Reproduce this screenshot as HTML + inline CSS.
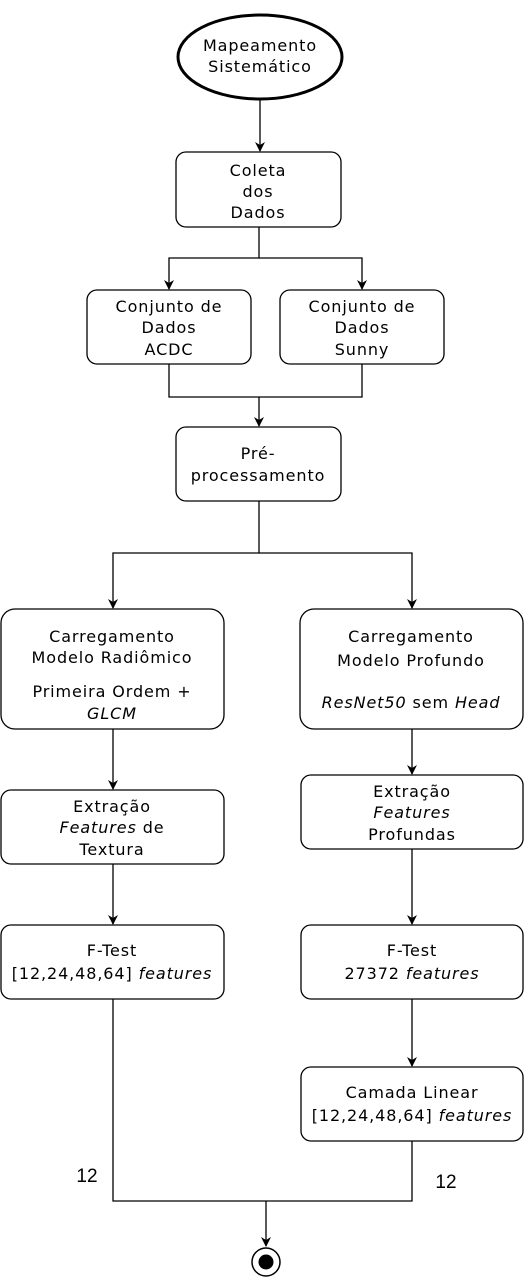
<!DOCTYPE html>
<html><head><meta charset="utf-8"><style>
html,body{margin:0;padding:0;background:#fff;}
svg{display:block;}
text{font-family:"DejaVu Sans",Verdana,sans-serif;font-size:16px;letter-spacing:0.9px;fill:#000;text-anchor:middle;}
.n{font-family:"Liberation Sans",Arial,sans-serif;font-size:19px;letter-spacing:0;}
.b{fill:#fff;stroke:#000;stroke-width:1.3;}
.l{fill:none;stroke:#000;stroke-width:1.3;}
</style></head><body>
<svg width="525" height="1278" viewBox="0 0 525 1278" xmlns="http://www.w3.org/2000/svg">
<defs><marker id="a" markerWidth="10" markerHeight="10" refX="9" refY="5" orient="auto" markerUnits="userSpaceOnUse"><path d="M0,0 L10,5 L0,10 L3,5 z" fill="#000"/></marker></defs>

<ellipse cx="260" cy="57" rx="82" ry="42" fill="#fff" stroke="#000" stroke-width="3"/>
<text x="260" y="51">Mapeamento</text><text x="260" y="72">Sistemático</text>
<path class="l" d="M260,100 V151" marker-end="url(#a)"/>

<rect class="b" x="176" y="152" width="165" height="75" rx="10"/>
<text x="258" y="176">Coleta</text><text x="258" y="197">dos</text><text x="258" y="218">Dados</text>

<path class="l" d="M259,227 V258 H169 V289" marker-end="url(#a)"/>
<path class="l" d="M259,258 H362 V289" marker-end="url(#a)"/>

<rect class="b" x="87" y="290" width="164" height="74" rx="10"/>
<text x="169" y="312">Conjunto de</text><text x="169" y="333">Dados</text><text x="169" y="355">ACDC</text>
<rect class="b" x="280" y="290" width="164" height="74" rx="10"/>
<text x="362" y="312">Conjunto de</text><text x="362" y="333">Dados</text><text x="362" y="355">Sunny</text>

<path class="l" d="M169,364 V397 H362 V364"/>
<path class="l" d="M259,397 V426" marker-end="url(#a)"/>

<rect class="b" x="176" y="427" width="165" height="74" rx="10"/>
<text x="258" y="459">Pré-</text><text x="258" y="481">processamento</text>

<path class="l" d="M259,501 V553 H113 V608" marker-end="url(#a)"/>
<path class="l" d="M259,553 H412 V608" marker-end="url(#a)"/>

<rect class="b" x="1" y="609" width="223" height="120" rx="14"/>
<text x="112" y="642">Carregamento</text><text x="112" y="653" dy="10">Modelo Radiômico</text>
<text x="112" y="697">Primeira Ordem +</text><text x="112" y="719" font-style="italic">GLCM</text>
<rect class="b" x="300" y="609" width="223" height="120" rx="14"/>
<text x="411" y="642">Carregamento</text><text x="411" y="666">Modelo Profundo</text>
<text x="411" y="708"><tspan font-style="italic">ResNet50</tspan> sem <tspan font-style="italic">Head</tspan></text>

<path class="l" d="M113,729 V789" marker-end="url(#a)"/>
<path class="l" d="M412,729 V774" marker-end="url(#a)"/>

<rect class="b" x="1" y="790" width="223" height="74" rx="10"/>
<text x="112" y="812">Extração</text><text x="112" y="833"><tspan font-style="italic">Features</tspan> de</text><text x="112" y="855">Textura</text>
<rect class="b" x="301" y="775" width="222" height="74" rx="10"/>
<text x="412" y="797">Extração</text><text x="412" y="818" font-style="italic">Features</text><text x="412" y="840">Profundas</text>

<path class="l" d="M113,864 V924" marker-end="url(#a)"/>
<path class="l" d="M412,849 V924" marker-end="url(#a)"/>

<rect class="b" x="1" y="925" width="223" height="74" rx="10"/>
<text x="112" y="956">F-Test</text><text x="112" y="979">[12,24,48,64] <tspan font-style="italic">features</tspan></text>
<rect class="b" x="301" y="925" width="222" height="74" rx="10"/>
<text x="412" y="956">F-Test</text><text x="412" y="979">27372 <tspan font-style="italic">features</tspan></text>

<path class="l" d="M412,999 V1066" marker-end="url(#a)"/>
<rect class="b" x="301" y="1067" width="222" height="74" rx="10"/>
<text x="412" y="1098">Camada Linear</text><text x="412" y="1121">[12,24,48,64] <tspan font-style="italic">features</tspan></text>

<path class="l" d="M113,999 V1201 H412 V1141"/>
<path class="l" d="M266,1201 V1246" marker-end="url(#a)"/>
<text x="87" y="1182" class="n">12</text>
<text x="446" y="1188" class="n">12</text>

<circle cx="266" cy="1262" r="14" fill="#fff" stroke="#000" stroke-width="1.5"/>
<circle cx="266" cy="1262" r="7.5" fill="#000"/>
</svg>
</body></html>
